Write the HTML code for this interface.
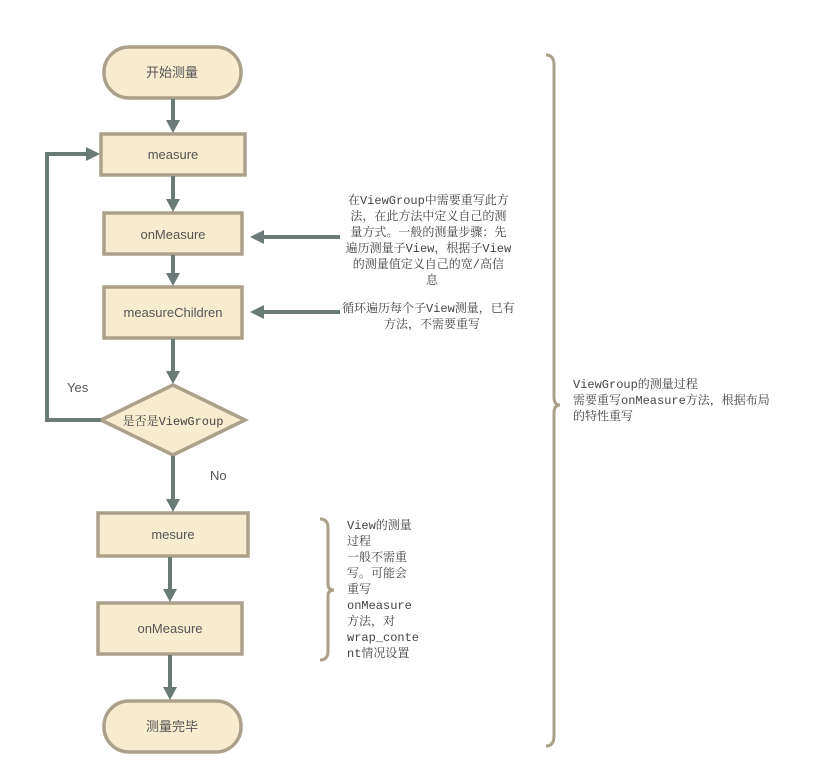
<!DOCTYPE html>
<html><head><meta charset="utf-8"><style>
html,body{margin:0;padding:0;background:#fff;}
svg{display:block}
.n{font-family:"Liberation Sans","Noto Sans CJK SC",sans-serif;font-size:13px;fill:#555;}
.m{font-family:"Liberation Mono","Noto Serif CJK SC",monospace;font-size:12px;fill:#444;}
.box{fill:#f7ecce;stroke:#aba08a;stroke-width:3.5;}
.ln{stroke:#6a7a77;stroke-width:4;fill:none;}
.hd{fill:#6a7a77;}
.br{stroke:#aba08a;stroke-width:3;fill:none;}
</style></head><body>
<svg width="814" height="784" viewBox="0 0 814 784" xmlns="http://www.w3.org/2000/svg">
<rect class="box" x="104" y="47" width="137" height="51" rx="25"/>
<rect class="box" x="101" y="134" width="144" height="41"/>
<rect class="box" x="104" y="213" width="138" height="41"/>
<rect class="box" x="104" y="287" width="138" height="51"/>
<polygon class="box" points="173,385 245,420 173,455 101,420"/>
<rect class="box" x="98" y="513" width="150" height="43"/>
<rect class="box" x="98" y="603" width="144" height="51"/>
<rect class="box" x="104" y="701" width="137" height="51" rx="25"/>

<line class="ln" x1="173" y1="99" x2="173" y2="122"/><polygon class="hd" points="166,120 180,120 173,133"/>
<line class="ln" x1="173" y1="176" x2="173" y2="201"/><polygon class="hd" points="166,199 180,199 173,212"/>
<line class="ln" x1="173" y1="255" x2="173" y2="275"/><polygon class="hd" points="166,273 180,273 173,286"/>
<line class="ln" x1="173" y1="339" x2="173" y2="373"/><polygon class="hd" points="166,371 180,371 173,384"/>
<line class="ln" x1="173" y1="456" x2="173" y2="501"/><polygon class="hd" points="166,499 180,499 173,512"/>
<line class="ln" x1="170" y1="557" x2="170" y2="591"/><polygon class="hd" points="163,589 177,589 170,602"/>
<line class="ln" x1="170" y1="655" x2="170" y2="689"/><polygon class="hd" points="163,687 177,687 170,700"/>
<polyline class="ln" points="101,420 47,420 47,154 88,154"/><polygon class="hd" points="86,147 86,161 100,154"/>
<line class="ln" x1="340" y1="237" x2="262" y2="237"/><polygon class="hd" points="264,230 264,244 250,237"/>
<line class="ln" x1="340" y1="312" x2="262" y2="312"/><polygon class="hd" points="264,305 264,319 250,312"/>

<path class="br" d="M546,55 Q554,55 554,65 L554,397 Q554,405 560,405 Q554,405 554,413 L554,736 Q554,746 546,746"/>
<path class="br" d="M320,519 Q328,519 328,528 L328,584 Q328,590 334,590 Q328,590 328,596 L328,651 Q328,660 320,660"/>

<text class="n" x="172" y="77" text-anchor="middle">开始测量</text>
<text class="n" x="173" y="159" text-anchor="middle">measure</text>
<text class="n" x="173" y="239" text-anchor="middle">onMeasure</text>
<text class="n" x="173" y="317" text-anchor="middle">measureChildren</text>
<text class="m" x="173" y="425" text-anchor="middle">是否是ViewGroup</text>
<text class="n" x="173" y="539" text-anchor="middle">mesure</text>
<text class="n" x="170" y="633" text-anchor="middle">onMeasure</text>
<text class="n" x="172" y="731" text-anchor="middle">测量完毕</text>
<text class="n" x="67" y="392">Yes</text>
<text class="n" x="210" y="480">No</text>

<text class="m" text-anchor="middle">
<tspan x="432" y="204">在ViewGroup中需要重写此方</tspan>
<tspan x="432" y="220">法，在此方法中定义自己的测</tspan>
<tspan x="432" y="236">量方式。一般的测量步骤：先</tspan>
<tspan x="432" y="252">遍历测量子View，根据子View</tspan>
<tspan x="432" y="268">的测量值定义自己的宽/高信</tspan>
<tspan x="432" y="284">息</tspan>
</text>
<text class="m" text-anchor="middle">
<tspan x="432" y="312">循环遍历每个子View测量，已有</tspan>
<tspan x="432" y="328">方法，不需要重写</tspan>
</text>
<text class="m">
<tspan x="347" y="529">View的测量</tspan>
<tspan x="347" y="545">过程</tspan>
<tspan x="347" y="561">一般不需重</tspan>
<tspan x="347" y="577">写。可能会</tspan>
<tspan x="347" y="593">重写</tspan>
<tspan x="347" y="609">onMeasure</tspan>
<tspan x="347" y="625">方法，对</tspan>
<tspan x="347" y="641">wrap_conte</tspan>
<tspan x="347" y="657">nt情况设置</tspan>
</text>
<text class="m">
<tspan x="573" y="388">ViewGroup的测量过程</tspan>
<tspan x="573" y="404">需要重写onMeasure方法，根据布局</tspan>
<tspan x="573" y="420">的特性重写</tspan>
</text>
</svg>
</body></html>
